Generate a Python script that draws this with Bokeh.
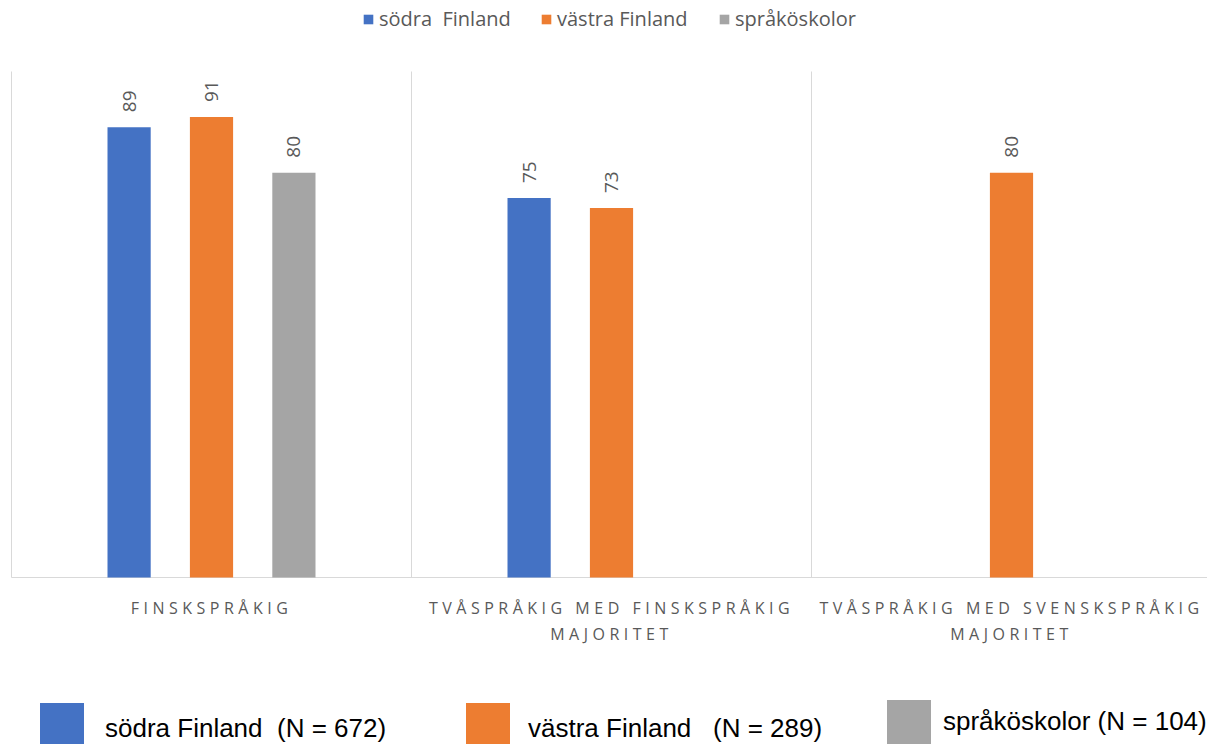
from bokeh.plotting import figure
from bokeh.models import Range1d, Legend, LegendItem, ColumnDataSource, CustomJS
from bokeh.embed import file_html
from bokeh.resources import INLINE
from bokeh.core.properties import value
from bokeh.io import curdoc
import math

categories = ["FINSKSPRÅKIG",
              "TVÅSPRÅKIG MED FINSKSPRÅKIG\nMAJORITET",
              "TVÅSPRÅKIG MED SVENSKSPRÅKIG\nMAJORITET"]
series = ["södra  Finland", "västra Finland", "språköskolor"]
series_long = ["södra Finland  (N = 672)", "västra Finland   (N = 289)", "språköskolor (N = 104)"]
sodra = [89, 75, None]
vastra = [91, 73, 80]
sprakoskolor = [80, None, None]
colors = ["#4472C4", "#ED7D31", "#A5A5A5"]

TEXT = "#595959"
FONT = "Open Sans"
W, H = 1207, 744
LEFT, TOP, BASE = 11, 71, 577          # plot area in pixels
CAT_PX = 400                           # pixels per category
YMAX = 100
PPU = (BASE - TOP) / YMAX              # pixels per value unit

p = figure(width=W, height=H, output_backend="svg", toolbar_location=None,
           x_range=Range1d(-LEFT / CAT_PX, (W - LEFT) / CAT_PX),
           y_range=Range1d(-(H - BASE) / PPU, YMAX + TOP / PPU),
           min_border=0, x_axis_type=None, y_axis_type=None)
p.outline_line_color = None
p.grid.visible = False

n = len(categories)
# category separators and baseline
p.segment(x0=list(range(n + 1)), x1=list(range(n + 1)), y0=0, y1=YMAX,
          line_color="#D9D9D9", line_width=1)
p.segment(x0=0, x1=n, y0=0, y1=0, line_color="#D9D9D9", line_width=1)

# category labels
cat_src = ColumnDataSource(dict(x=[i + 0.5 for i in range(n)], t=categories))
p.text(x="x", y=-19 / PPU, text="t", source=cat_src, text_align="center", text_baseline="top",
       text_font=value(FONT), text_font_size="16px", text_color=TEXT, text_line_height=1.2)

offsets = [-0.206, 0.0, 0.206]
bar_w = 0.108
renderers = []
for s, vals, col, off in zip(series, [sodra, vastra, sprakoskolor], colors, offsets):
    xs = [i + 0.5 + off for i, v in enumerate(vals) if v is not None]
    ys = [v for v in vals if v is not None]
    src = ColumnDataSource(dict(x=xs, top=ys, lab=[str(v) for v in ys], ly=[v + 15 / PPU for v in ys]))
    r = p.vbar(x="x", top="top", width=bar_w, bottom=0, source=src, fill_color=col, line_color=None)
    renderers.append(r)
    p.text(x="x", y="ly", text="lab", source=src, angle=math.pi / 2, text_align="left",
           text_baseline="middle", text_font=value(FONT), text_font_size="19px", text_color=TEXT)

# top legend (legend glyphs are inset 10% on each side)
top_x = [362, 540, 718]
for s, r, x in zip(series, renderers, top_x):
    lg = Legend(items=[LegendItem(label=s, renderers=[r])], location=(x, 712),
                glyph_width=12, glyph_height=12, label_standoff=5, padding=0, margin=0,
                border_line_color=None, background_fill_alpha=0,
                label_text_font=FONT, label_text_font_size="20px", label_text_color=TEXT)
    p.add_layout(lg)

# bottom legend
bot = [(34, -17, 65, 16), (460, -17, 65, 13), (881, -5, 55, 7)]
for s, r, (x, y, gh, so) in zip(series_long, renderers, bot):
    lg = Legend(items=[LegendItem(label=s, renderers=[r])], location=(x, y),
                glyph_width=55, glyph_height=gh, label_standoff=so, padding=0, margin=0,
                border_line_color=None, background_fill_alpha=0,
                label_text_font="Liberation Sans", label_text_font_size="26px", label_text_color="#000000")
    p.add_layout(lg)

cat_lines = [line for c in categories for line in c.split("\n")]
js = """
const norm = (s) => s.replace(/[\\s\\u00A0]+/g, ' ').trim();
const CAT = cat_lines.map(norm);
function walk(root, out) {
  for (const el of root.querySelectorAll('*')) {
    const tag = (el.localName || el.tagName || '').toLowerCase();
    if (tag === 'text') out.push(el);
    if (el.shadowRoot) walk(el.shadowRoot, out);
  }
}
function apply() {
  const texts = [];
  walk(document, texts);
  for (const t of texts) {
    if (t.getAttribute('data-ls')) continue;
    const s = norm(t.textContent || '');
    if (!CAT.includes(s)) continue;
    const ls = ls_cat;
    t.setAttribute('data-ls', '1');
    t.style.letterSpacing = ls + 'px';
    if (t.getAttribute('x') != null) {
      const anchor = t.getAttribute('text-anchor') || 'start';
      const nch = Array.from(s).length;
      let dx = 0;
      if (anchor === 'middle') dx = -ls / 2;
      else if (anchor === 'start') dx = -nch * ls / 2;
      else dx = nch * ls / 2;
      t.setAttribute('x', parseFloat(t.getAttribute('x')) + dx);
    }
  }
}
apply();
let k = 0;
const timer = setInterval(() => { apply(); if (++k > 100) clearInterval(timer); }, 50);
"""
doc = curdoc()
doc.add_root(p)
doc.js_on_event("document_ready", CustomJS(args=dict(cat_lines=cat_lines, ls_cat=4.5), code=js))

open("out.html", "w").write(file_html(p, INLINE))
